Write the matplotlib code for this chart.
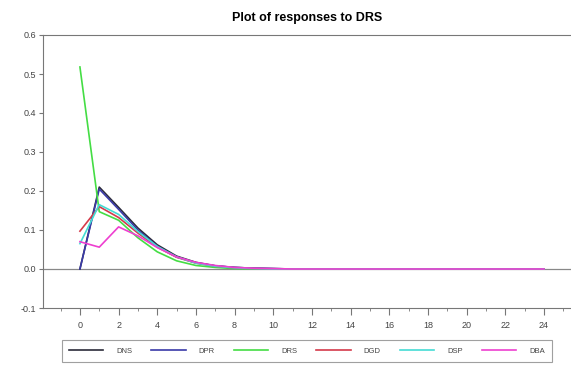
import matplotlib
matplotlib.use("Agg")
import matplotlib.pyplot as plt
from matplotlib.ticker import MultipleLocator

plt.rcParams['font.family'] = ['Liberation Sans Narrow', 'Liberation Sans', 'DejaVu Sans']

periods = list(range(25))
DNS = [0.0, 0.210, 0.158, 0.105, 0.062, 0.033, 0.017, 0.008, 0.004, 0.002, 0.001] + [0.0] * 14
DPR = [0.0, 0.205, 0.153, 0.100, 0.058, 0.031, 0.016, 0.008, 0.004, 0.002, 0.001] + [0.0] * 14
DRS = [0.518, 0.147, 0.125, 0.080, 0.044, 0.021, 0.009, 0.004, 0.001, 0.0, 0.0] + [0.0] * 14
DGD = [0.097, 0.160, 0.132, 0.092, 0.056, 0.030, 0.015, 0.007, 0.003, 0.001, 0.0] + [0.0] * 14
DSP = [0.065, 0.165, 0.140, 0.096, 0.058, 0.031, 0.015, 0.007, 0.003, 0.001, 0.0] + [0.0] * 14
DBA = [0.070, 0.056, 0.108, 0.085, 0.055, 0.031, 0.017, 0.009, 0.004, 0.002, 0.001] + [0.0] * 14

series = {"DNS": DNS, "DPR": DPR, "DRS": DRS, "DGD": DGD, "DSP": DSP, "DBA": DBA}
colors = {"DNS": "#2b2b3a", "DPR": "#3a3aa8", "DRS": "#44dd44",
          "DGD": "#d43a4a", "DSP": "#44dcd4", "DBA": "#ee3fd0"}

fig = plt.figure(figsize=(5.71, 3.67), dpi=100)
ax = fig.add_axes([43/571, 1 - 308/367, 1 - 43/571, (308 - 35)/367])

ax.axhline(0, color="#888888", lw=0.9, zorder=1)
for name, vals in series.items():
    ax.plot(periods, vals, color=colors[name], lw=1.2, label=name, zorder=2)

ax.set_xlim(-1.91, 25.4)
ax.set_ylim(-0.1, 0.6)
ax.xaxis.set_major_locator(MultipleLocator(2))
ax.xaxis.set_minor_locator(MultipleLocator(1))
ax.set_xticks([t for t in range(0, 25, 2)])
ax.set_yticks([-0.1, 0.0, 0.1, 0.2, 0.3, 0.4, 0.5, 0.6])
ax.set_yticklabels(["-0.1", "0.0", "0.1", "0.2", "0.3", "0.4", "0.5", "0.6"])

ax.spines["right"].set_visible(False)
for s in ["left", "bottom", "top"]:
    ax.spines[s].set_color("#777777")
    ax.spines[s].set_linewidth(0.8)

ax.tick_params(axis="both", which="both", color="#777777", labelcolor="#444444", labelsize=6.5, direction="out")
ax.tick_params(axis="x", which="major", length=5, pad=4)
ax.tick_params(axis="x", which="minor", length=2.5)
ax.tick_params(axis="y", which="major", length=3, pad=2)
ax.tick_params(axis="y", which="minor", length=0)

ax.set_title("Plot of responses to DRS", fontsize=9, fontweight="bold", pad=10, x=0.5)

leg = fig.legend(loc="center", bbox_to_anchor=(307/571, 1 - 351/367), ncol=6, fontsize=5.5,
                 frameon=True, fancybox=False, edgecolor="#888888", handlelength=4.5,
                 columnspacing=2.5, handletextpad=1.7, borderpad=0.9)
leg.get_frame().set_linewidth(0.8)
for t in leg.get_texts():
    t.set_color("#444444")

fig.savefig("out.png", dpi=100)
